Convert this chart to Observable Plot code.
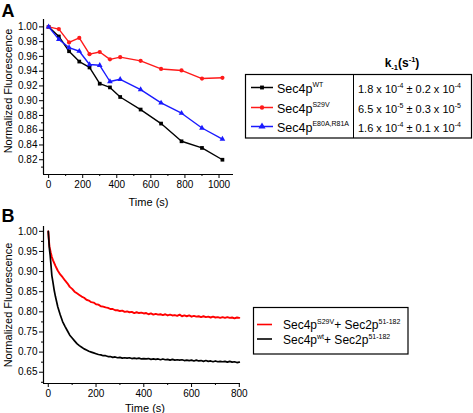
<!DOCTYPE html>
<html><head><meta charset="utf-8">
<script src="https://cdn.jsdelivr.net/npm/d3@7"></script>
<script src="https://cdn.jsdelivr.net/npm/@observablehq/plot@0.6"></script>
<style>
body{margin:0;background:#fff;}
#wrap{position:relative;width:473px;height:413px;overflow:hidden;font-family:"Liberation Sans",Arial,sans-serif;}
#wrap svg{position:absolute;}
</style></head><body><div id="wrap"></div>
<script>
// ---------- Panel A data ----------
const timeA = [0,60,120,180,240,300,360,420,540,660,780,900,1020];
const wtA   = [1.000,0.987,0.967,0.953,0.945,0.923,0.918,0.905,0.888,0.869,0.845,0.836,0.820];
const s29vA = [1.000,0.997,0.979,0.985,0.963,0.966,0.956,0.959,0.954,0.943,0.941,0.930,0.931];
const e80aA = [1.000,0.983,0.972,0.967,0.949,0.948,0.926,0.929,0.915,0.897,0.883,0.863,0.848];
const seriesNameA = ["Sec4p","Sec4p","Sec4p"];
const seriesSupA  = ["WT","S29V","E80A,R81A"];
const colorsA     = ["#000000","#ff1a1a","#1a1aff"];
const symbolsA    = ["square","circle","triangle"];
const kMean    = ["1.8","6.5","1.6"];
const kMeanExp = ["-4","-5","-4"];
const kErr     = ["0.2","0.3","0.1"];
const kErrExp  = ["-4","-5","-4"];
const xTicksA = [0,200,400,600,800,1000];
const xMinorA = [100,300,500,700,900];
const yTicksA = [0.82,0.84,0.86,0.88,0.90,0.92,0.94,0.96,0.98,1.00];
const yMinorA = [0.81,0.83,0.85,0.87,0.89,0.91,0.93,0.95,0.97,0.99];

// ---------- Panel B data ----------
const timeB = [0,3,5,8,10,15,20,25,30,
  40,50,60,70,80,90,100,110,120,130,
  140,150,160,170,180,190,200,210,220,230,
  240,250,260,270,280,290,300,310,320,330,
  340,350,360,370,380,390,400,410,420,430,
  440,450,460,470,480,490,500,510,520,530,
  540,550,560,570,580,590,600,610,620,630,
  640,650,660,670,680,690,700,710,720,730,
  740,750,760,770,780,790,800];
const s29vB = [1.000,0.975,0.962,0.954,0.948,0.936,0.928,0.921,0.914,
  0.902,0.893,0.886,0.878,0.871,0.862,0.857,0.850,0.846,0.842,
  0.838,0.835,0.830,0.828,0.824,0.823,0.819,0.818,0.814,0.813,
  0.811,0.810,0.807,0.807,0.804,0.804,0.802,0.803,0.800,0.801,
  0.799,0.800,0.797,0.799,0.797,0.798,0.796,0.797,0.794,0.796,
  0.793,0.795,0.793,0.794,0.792,0.794,0.791,0.793,0.791,0.792,
  0.790,0.793,0.789,0.791,0.789,0.791,0.788,0.790,0.788,0.789,
  0.787,0.789,0.787,0.788,0.786,0.788,0.786,0.787,0.785,0.787,
  0.785,0.787,0.785,0.786,0.784,0.786,0.785];
const wtB = [1.000,0.972,0.955,0.940,0.926,0.890,0.872,0.853,0.838,
  0.812,0.793,0.776,0.764,0.753,0.742,0.735,0.728,0.721,0.716,
  0.712,0.708,0.705,0.702,0.700,0.698,0.696,0.694,0.693,0.691,
  0.691,0.689,0.689,0.687,0.688,0.686,0.687,0.685,0.686,0.685,
  0.686,0.684,0.685,0.684,0.685,0.683,0.684,0.683,0.684,0.682,
  0.683,0.682,0.683,0.681,0.683,0.681,0.682,0.680,0.682,0.680,
  0.681,0.680,0.681,0.679,0.680,0.679,0.680,0.678,0.680,0.678,
  0.679,0.677,0.679,0.677,0.678,0.676,0.678,0.676,0.677,0.676,
  0.677,0.675,0.677,0.675,0.676,0.674,0.675];
const seriesSupB = ["S29V","wt"];
const partnerB = "Sec2p";
const partnerSupB = "51-182";
const colorsB = ["#ff0000","#000000"];
const xTicksB = [0,200,400,600,800];
const xMinorB = [100,300,500,700];
const yTicksB = [0.65,0.70,0.75,0.80,0.85,0.90,0.95,1.00];
const yMinorB = [0.625,0.675,0.725,0.775,0.825,0.875,0.925,0.975];

const TICKFONT = '"Liberation Sans Narrow","Liberation Sans",Arial,sans-serif';
const wrap = document.getElementById("wrap");

function axes(xT, xM, yT, yM, yFmt) {
  return [
    Plot.axisX({ticks: xM, tickSize: 2, tickFormat: () => "", label: null}),
    Plot.axisX({ticks: xT, tickSize: 4, tickPadding: 2, label: null, tickFormat: d => String(d), fontSize: 10, fontFamily: TICKFONT}),
    Plot.axisY({ticks: yM, tickSize: 2, tickFormat: () => "", label: null}),
    Plot.axisY({ticks: yT, tickSize: 4, tickPadding: 2, label: null, tickFormat: yFmt, fontSize: 10, fontFamily: TICKFONT})
  ];
}

// ---------- Plot A ----------
const seriesA = [wtA, s29vA, e80aA];
const rowsA = seriesA.map(vals => timeA.map((t, i) => ({t, v: vals[i]})));
const plotA = Plot.plot({
  width: 240, height: 205,
  marginLeft: 43, marginRight: 7, marginTop: 19, marginBottom: 31,
  style: {fontFamily: '"Liberation Sans",Arial,sans-serif', fontSize: "10px", overflow: "visible", background: "transparent", color: "#000"},
  x: {domain: [-30, 1085]},
  y: {domain: [0.80, 1.01]},
  marks: [
    ...axes(xTicksA, xMinorA, yTicksA, yMinorA, d3.format(".2f")),
    Plot.ruleX([-30], {stroke: "#000", strokeWidth: 1.2}),
    Plot.ruleY([0.80], {stroke: "#000", strokeWidth: 1.2}),
    ...rowsA.flatMap((rows, k) => [
      Plot.line(rows, {x: "t", y: "v", stroke: colorsA[k], strokeWidth: 1.4}),
      Plot.dot(rows, {x: "t", y: "v", fill: colorsA[k], stroke: "none", symbol: symbolsA[k], r: 2.1})
    ]),
    Plot.text(["Normalized Fluorescence"], {frameAnchor: "left", textAnchor: "middle", lineAnchor: "middle", rotate: -90, dx: -35, dy: -6, fontSize: 11}),
    Plot.text(["Time (s)"], {frameAnchor: "bottom", textAnchor: "middle", lineAnchor: "middle", dx: 10, dy: 28, fontSize: 11})
  ]
});
plotA.style.left = "0px"; plotA.style.top = "0px";
wrap.appendChild(plotA);

// ---------- Plot B ----------
const seriesB = [s29vB, wtB];
const rowsB = seriesB.map(vals => timeB.map((t, i) => ({t, v: vals[i]})));
const plotB = Plot.plot({
  width: 242, height: 208,
  marginLeft: 43, marginRight: 2, marginTop: 21, marginBottom: 30,
  style: {fontFamily: '"Liberation Sans",Arial,sans-serif', fontSize: "10px", overflow: "visible", background: "transparent", color: "#000"},
  x: {domain: [-20, 805]},
  y: {domain: [0.622, 1.012]},
  marks: [
    ...axes(xTicksB, xMinorB, yTicksB, yMinorB, d3.format(".2f")),
    Plot.ruleX([-20], {stroke: "#000", strokeWidth: 1.2}),
    Plot.ruleY([0.622], {stroke: "#000", strokeWidth: 1.2}),
    ...rowsB.map((rows, k) => Plot.line(rows, {x: "t", y: "v", stroke: colorsB[k], strokeWidth: k === 0 ? 1.9 : 1.7})),
    Plot.text(["Normalized Fluorescence"], {frameAnchor: "left", textAnchor: "middle", lineAnchor: "middle", rotate: -90, dx: -35, dy: 0, fontSize: 11}),
    Plot.text(["Time (s)"], {frameAnchor: "bottom", textAnchor: "middle", lineAnchor: "middle", dx: 3, dy: 25, fontSize: 11})
  ]
});
plotB.style.left = "0px"; plotB.style.top = "205px";
wrap.appendChild(plotB);

// ---------- Overlay: panel letters and legends ----------
const symPath = (s) => d3.symbol(s === "square" ? d3.symbolSquare : s === "circle" ? d3.symbolCircle : d3.symbolTriangle, s === "triangle" ? 22 : 15)();
const rowYA = [87.5, 107.5, 126.5];
let ov = `<svg width="473" height="413" style="left:0;top:0" font-family='"Liberation Sans",Arial,sans-serif'>`;
ov += `<text x="1.5" y="16.5" font-size="18" font-weight="bold">A</text>`;
ov += `<text x="1.5" y="222" font-size="18" font-weight="bold">B</text>`;
// legend A
ov += `<text x="402" y="67" font-size="12" font-weight="bold" text-anchor="middle">k<tspan font-size="7.5" dy="3">-1</tspan><tspan dy="-3">(s</tspan><tspan font-size="7.5" dy="-5">-1</tspan><tspan dy="5">)</tspan></text>`;
ov += `<rect x="245.5" y="74.5" width="226" height="63.5" fill="none" stroke="#000" stroke-width="1.2"/>`;
ov += `<line x1="353.5" x2="353.5" y1="74.5" y2="138" stroke="#000" stroke-width="1"/>`;
rowYA.forEach((y, k) => {
  ov += `<line x1="251" x2="273" y1="${y}" y2="${y}" stroke="${colorsA[k]}" stroke-width="1.5"/>`;
  ov += `<path d="${symPath(symbolsA[k])}" transform="translate(262,${y})" fill="${colorsA[k]}"/>`;
  ov += `<text x="277" y="${y + 5}" font-size="12.5">${seriesNameA[k]}<tspan font-size="7" dy="-5.5">${seriesSupA[k]}</tspan></text>`;
  ov += `<text x="358" y="${y + 5}" font-size="11">${kMean[k]} x 10<tspan font-size="7" dy="-5">${kMeanExp[k]}</tspan><tspan dy="5"> ± ${kErr[k]} x 10</tspan><tspan font-size="7" dy="-5">${kErrExp[k]}</tspan></text>`;
});
// legend B
ov += `<rect x="253.5" y="307.5" width="154.5" height="46.5" fill="none" stroke="#000" stroke-width="1.2"/>`;
const rowYB = [324.5, 339];
rowYB.forEach((y, k) => {
  ov += `<line x1="257" x2="272" y1="${y}" y2="${y}" stroke="${colorsB[k]}" stroke-width="1.6"/>`;
  ov += `<text x="283" y="${y + 4.5}" font-size="12">Sec4p<tspan font-size="7" dy="-5">${seriesSupB[k]}</tspan><tspan dy="5">+ ${partnerB}</tspan><tspan font-size="7" dy="-5">${partnerSupB}</tspan></text>`;
});
ov += `</svg>`;
wrap.insertAdjacentHTML("beforeend", ov);
</script>
</body></html>
